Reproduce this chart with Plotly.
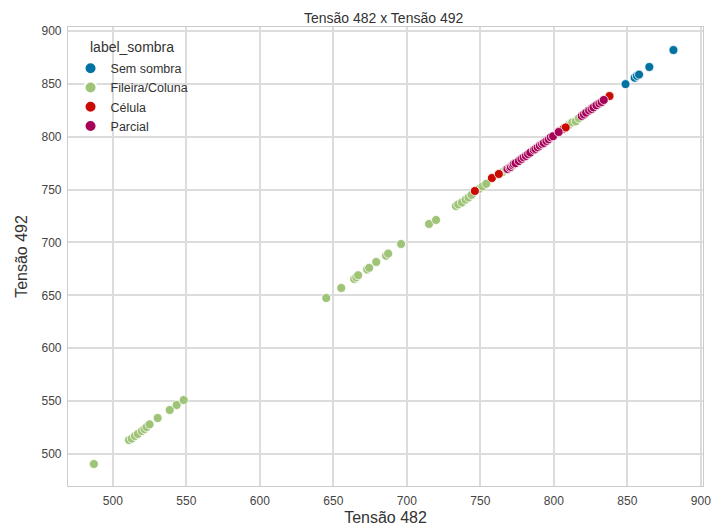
import plotly.graph_objects as go

# Tensão 482 vs Tensão 492, grouped by shading label
sem_sombra_x = [848.8, 855.0, 856.5, 858.0, 865.0, 881.4]
sem_sombra_y = [849.8, 855.8, 857.5, 858.8, 866.0, 882.0]

fileira_x = [487.1, 511.0, 512.9, 515.0, 517.0, 519.7, 521.5, 523.0, 525.0, 530.5,
             538.7, 543.4, 548.2, 645.2, 655.4, 664.2, 665.6, 666.9, 673.0, 674.4,
             679.2, 685.9, 687.3, 696.1, 715.1, 719.9, 733.4, 735.0, 737.5, 740.0,
             742.0, 744.0, 749.0, 751.5, 754.0, 765.0, 767.5, 806.0, 810.0, 812.5,
             814.9, 817.0]
fileira_y = [490.5, 513.2, 514.5, 517.0, 518.9, 521.7, 523.5, 525.5, 528.0, 534.0,
             541.6, 546.3, 551.0, 647.5, 657.0, 665.5, 667.0, 669.0, 674.5, 676.0,
             681.6, 687.5, 689.5, 698.6, 717.5, 721.3, 734.5, 736.0, 737.8, 740.5,
             742.5, 745.0, 750.5, 753.0, 755.5, 766.5, 769.0, 807.0, 811.0, 813.5,
             814.5, 817.5]

celula_x = [746.3, 757.9, 762.6, 776.0, 791.0, 797.0, 804.0, 806.5, 808.1, 826.0, 837.9]
celula_y = [748.7, 761.0, 764.8, 777.0, 792.5, 798.0, 805.5, 807.5, 808.8, 826.5, 838.5]

parcial_x = [768.5, 770.0, 770.8, 772.0, 772.8, 774.0, 776.2, 778.0, 779.5, 781.0,
             782.5, 784.0, 786.4, 787.5, 789.0, 790.5, 792.0, 793.2, 795.0, 796.5,
             797.9, 799.5, 803.3, 819.0, 820.5, 822.0, 824.0, 825.7, 827.0, 829.0,
             831.0, 832.5, 834.0]
parcial_y = [769.5, 770.8, 771.4, 773.0, 774.2, 775.0, 777.0, 779.0, 780.5, 781.8,
             783.5, 785.0, 787.5, 788.5, 790.0, 791.5, 793.0, 794.1, 796.0, 797.5,
             799.5, 800.5, 804.5, 819.6, 821.0, 822.8, 824.8, 826.2, 827.8, 829.8,
             831.5, 832.8, 834.8]

series = [
    ("Sem sombra", sem_sombra_x, sem_sombra_y, "#0272a2"),
    ("Fileira/Coluna", fileira_x, fileira_y, "#9fc377"),
    ("Célula", celula_x, celula_y, "#ca0b03"),
    ("Parcial", parcial_x, parcial_y, "#a50258"),
]

x_ticks = [500, 550, 600, 650, 700, 750, 800, 850, 900]
y_ticks = [500, 550, 600, 650, 700, 750, 800, 850, 900]

fig = go.Figure()
for name, xs, ys, color in series:
    fig.add_trace(go.Scatter(
        x=xs, y=ys, mode="markers", name=name,
        marker=dict(color=color, size=9, line=dict(color="white", width=0.8)),
    ))

font_family = "Liberation Sans, Arial, sans-serif"
grid = "#dcdcdc"
fig.update_layout(
    width=713, height=526,
    margin=dict(l=68, r=10, t=27, b=40, autoexpand=False),
    paper_bgcolor="white", plot_bgcolor="white",
    font=dict(family=font_family, color="#333333", size=12),
    title=dict(text="Tensão 482 x Tensão 492", x=0.538, xanchor="center",
               y=0.966, yanchor="middle", font=dict(size=14, color="#333333")),
    legend=dict(
        x=0.004, y=0.942, xanchor="left", yanchor="top",
        bgcolor="rgba(0,0,0,0)", borderwidth=0,
        font=dict(size=12.5, color="#333333"), itemsizing="constant",
        tracegroupgap=0,
    ),
    annotations=[dict(
        text="label_sombra", xref="paper", yref="paper",
        x=(88 - 68) / 635, y=(486 - 47) / 459, xanchor="left", yanchor="middle",
        showarrow=False, font=dict(size=14, color="#333333"),
    )],
    xaxis=dict(
        range=[469.5, 901.5], tickvals=x_ticks, automargin=False,
        showgrid=True, gridcolor=grid, gridwidth=1.5,
        showline=True, linecolor="#cccccc", linewidth=1.2, mirror=True,
        zeroline=False, ticks="", ticklabelstandoff=3,
        tickfont=dict(size=12, color="#444444"),
        title=dict(text="Tensão 482", font=dict(size=16, color="#333333"), standoff=9),
    ),
    yaxis=dict(
        range=[469.7, 903.8], tickvals=y_ticks, automargin=False,
        showgrid=True, gridcolor=grid, gridwidth=1.5,
        showline=True, linecolor="#cccccc", linewidth=1.2, mirror=True,
        zeroline=False, ticks="", ticklabelstandoff=3,
        tickfont=dict(size=12, color="#444444"),
        title=dict(text="Tensão 492", font=dict(size=16, color="#333333"), standoff=9),
    ),
)

fig.write_html("out.html")
